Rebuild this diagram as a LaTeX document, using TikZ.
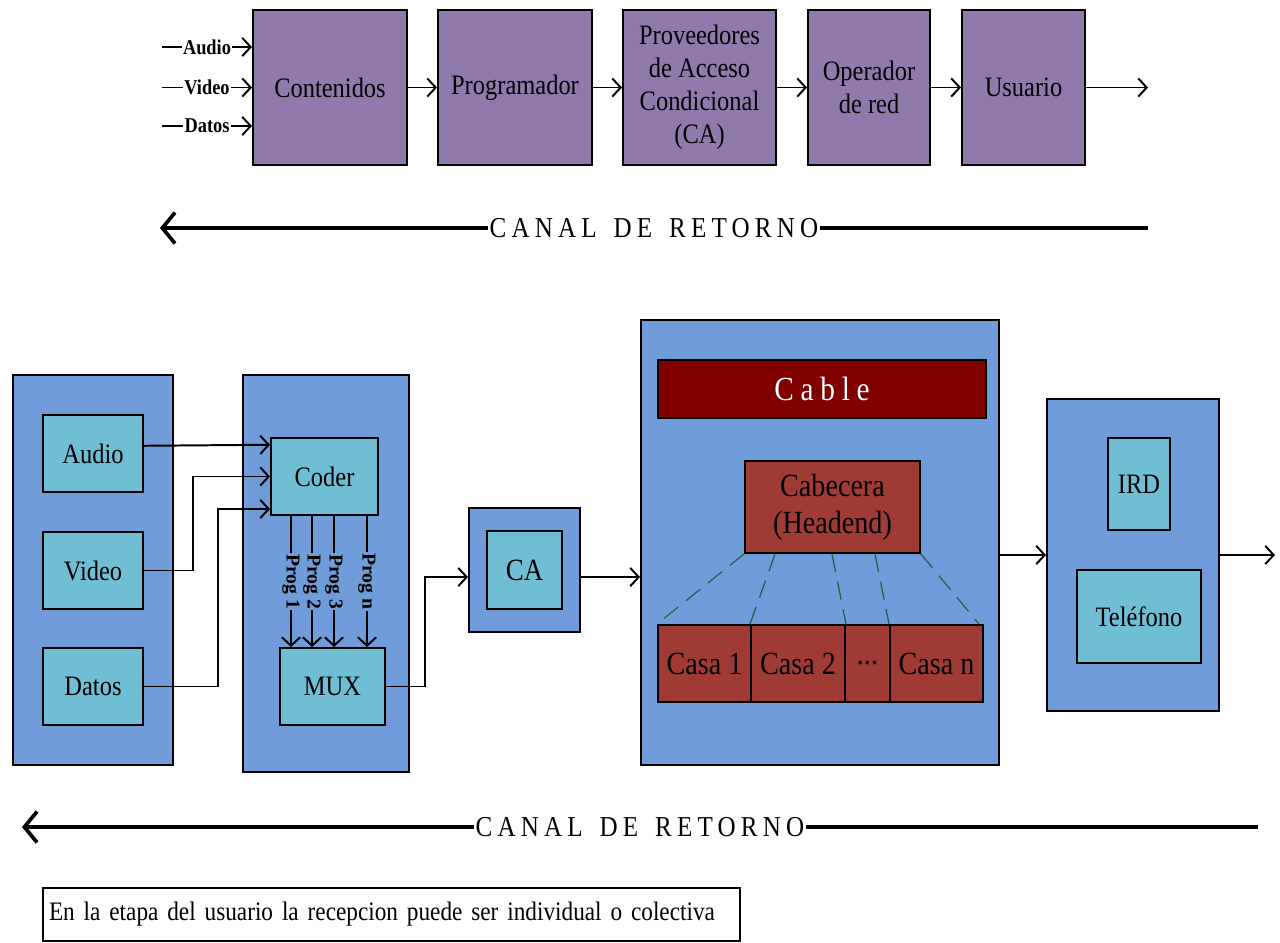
\documentclass[tikz,border=0pt]{standalone}
\usepackage{fontspec}
\usepackage{tikz}
\usetikzlibrary{arrows.meta}
\setmainfont{Liberation Serif}[FakeStretch=0.87]
\newfontfamily\plainfont{Liberation Serif}
\newfontfamily\canalfont{Liberation Serif}[FakeStretch=0.87,LetterSpace=18]
\newfontfamily\cablefont{Liberation Serif}[FakeStretch=0.87,LetterSpace=20]

\definecolor{topPurple}{RGB}{143,122,171}
\definecolor{outerBlue}{RGB}{112,156,217}
\definecolor{innerCyan}{RGB}{111,190,211}
\definecolor{cableRed}{RGB}{128,0,0}
\definecolor{casaRed}{RGB}{160,58,53}
\definecolor{dashGreen}{RGB}{40,95,72}

\begin{document}
\begin{tikzpicture}[x=0.025cm, y=-0.025cm, line width=1.4pt,
        >={Straight Barb[length=6pt,width=13pt]},
        dims/.style 2 args={minimum width=#1*0.025cm, minimum height=#2*0.025cm},
        inlabel/.style={fill=white, inner sep=1pt, font=\bfseries\fontsize{15}{15}\selectfont},
        prog/.style={rotate=-90, fill=outerBlue, inner sep=1pt, font=\plainfont\bfseries\fontsize{14}{14}\selectfont},
        canal/.style={fill=white, inner sep=1pt, font=\canalfont\fontsize{20.5}{20.5}\selectfont},
        retorno/.style={line width=3.2pt, -{Straight Barb[length=9pt,width=22pt,line width=2.6pt]}}]
    \useasboundingbox (0,0) rectangle (1280,942);

    % cadena de valor
    \begin{scope}[every node/.style={draw=black, fill=topPurple, dims={154}{155}, align=center, font=\fontsize{20}{23.5}\selectfont}]
        \node (contenidos) at (330,87.5) {Contenidos};
        \node (programador) at (515,87.5) {Programador};
        \node[dims={153}{155}] (proveedores) at (699.5,87.5) {Proveedores\\de Acceso\\Condicional\\(CA)};
        \node[dims={122}{155}] (operador) at (869,87.5) {Operador\\de red};
        \node[dims={123}{155}] (usuario) at (1023.5,87.5) {Usuario};
    \end{scope}
    \coordinate (inAudio) at (162,47);
    \coordinate (inVideo) at (162,87.5);
    \coordinate (inDatos) at (162,126);
    \coordinate (outTop) at (1148,87.5);
    \draw[->] (inAudio) -- node[inlabel]{Audio} (inAudio -| contenidos.west);
    \draw[->] (inVideo) -- node[inlabel]{Video} (inVideo -| contenidos.west);
    \draw[->] (inDatos) -- node[inlabel]{Datos} (inDatos -| contenidos.west);
    \draw[->] (contenidos) -- (programador);
    \draw[->] (programador) -- (proveedores);
    \draw[->] (proveedores) -- (operador);
    \draw[->] (operador) -- (usuario);
    \draw[->] (usuario) -- (outTop);

    \coordinate (retTopR) at (1148,228);
    \coordinate (retTopL) at (160,228);
    \draw[retorno] (retTopR) -- node[canal]{CANAL\hspace{12pt}DE\hspace{12pt}RETORNO} (retTopL);

    % etapas
    \begin{scope}[every node/.style={draw=black, fill=outerBlue}]
        \node[dims={160}{390}] (fuentes) at (93,570) {};
        \node[dims={166}{397}] (codificacion) at (326,573.5) {};
        \node[dims={111}{124}] (acceso) at (524.5,570) {};
        \node[dims={358}{445}] (red) at (820,542.5) {};
        \node[dims={172}{312}] (hogar) at (1133,555) {};
    \end{scope}
    \begin{scope}[every node/.style={draw=black, fill=innerCyan, font=\fontsize{20}{22}\selectfont}]
        \node[dims={100}{77}] (audio) at (93,453.5) {Audio};
        \node[dims={100}{77}] (video) at (93,570.5) {Video};
        \node[dims={100}{77}] (datos) at (93,686.5) {Datos};
        \node[dims={107}{77}] (coder) at (324.5,476.5) {Coder};
        \node[dims={105}{77}] (mux) at (332.5,686.5) {MUX};
        \node[dims={75}{78}, font=\fontsize{22}{22}\selectfont] (ca) at (524.5,570) {CA};
        \node[dims={62}{92}] (ird) at (1139,484) {IRD};
        \node[dims={124}{93}] (telefono) at (1139,616.5) {Teléfono};
    \end{scope}
    \begin{scope}[every node/.style={draw=black, fill=casaRed, dims={93}{77}, align=center, font=\fontsize{23}{26}\selectfont}]
        \node[fill=cableRed, text=white, dims={328}{58}, font=\cablefont\fontsize{24}{24}\selectfont] (cable) at (822,389) {Cable};
        \node[dims={175}{92}] (cabecera) at (832.5,507) {Cabecera\\(Headend)};
        \node (casa1) at (704.5,663.5) {Casa 1};
        \node[dims={94}{77}] (casa2) at (798,663.5) {Casa 2};
        \node[dims={45}{77}] (casas) at (867.5,663.5) {...};
        \node (casan) at (936.5,663.5) {Casa n};
    \end{scope}
    \begin{scope}[dashGreen, line width=0.9pt, dash pattern=on 13pt off 7pt]
        \draw (cabecera.south west) -- (casa1.north west);
        \draw ([xshift=31*0.025cm]cabecera.south west) -- (casa2.north west);
        \draw ([xshift=88*0.025cm]cabecera.south west) -- (casa2.north east);
        \draw ([xshift=131*0.025cm]cabecera.south west) -- (casan.north west);
        \draw (cabecera.south east) -- ([xshift=-5*0.025cm]casan.north east);
    \end{scope}

    \draw[->] ([yshift=5.5pt]audio.east) -- ([yshift=-5.5pt]coder.north west);
    \draw[->] (video.east) -- ++(49,0) |- (coder.west);
    \draw[->] (datos.east) -- ++(74,0) |- ([yshift=5pt]coder.south west);
    \foreach \dx/\k in {21/1, 42/2, 64/3, 97/n}
        \draw[->] ([xshift=\dx*0.025cm]coder.south west) coordinate (p\k) -- (p\k |- mux.north) node[midway, prog]{Prog \k};
    \draw[->] (mux.east) -- ++(39,0) |- ([yshift=-5pt]acceso.west);
    \draw[->] ([yshift=-5pt]acceso.east) -- ([yshift=-5pt]acceso.east -| red.west);
    \draw[->] (red.east |- hogar.west) -- (hogar.west);
    \coordinate (salida) at (1275,555);
    \draw[->] (hogar) -- (salida);

    \coordinate (retBotR) at (1258,827);
    \coordinate (retBotL) at (22,827);
    \draw[retorno] (retBotR) -- node[canal]{CANAL\hspace{12pt}DE\hspace{12pt}RETORNO} (retBotL);

    \node[draw=black, dims={697}{53}, text width=685*0.025cm, inner xsep=2pt, align=left, font=\fontsize{19}{21}\selectfont] (nota) at (391.5,914.5) {En la etapa del usuario la recepcion puede ser individual o colectiva};
\end{tikzpicture}
\end{document}
